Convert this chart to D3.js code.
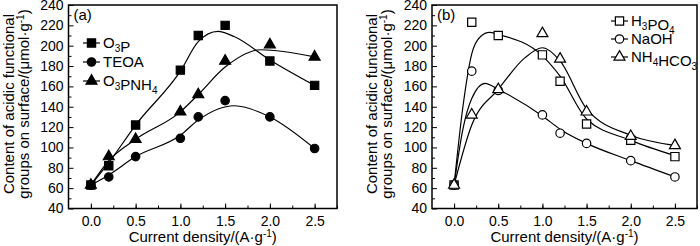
<!DOCTYPE html>
<html lang="en">
  <head>
    <meta charset="utf-8">
    <title>Acidic functional groups</title>
    <script src="https://d3js.org/d3.v7.js"></script>
    <style>
      body { margin: 0; background: #fff; }
      text { font-family: "Liberation Sans", Arial, sans-serif; fill: #000; }
    </style>
  </head>

  <body>

  <script>

// Data

  var density = [0, 0.2, 0.5, 1.0, 1.2, 1.5, 2.0, 2.5];

  // panel (a)
  var o3p    = [63, 82, 122, 176, 210, 220, 185, 161];
  var teoa   = [63, 71, 91, 109, 130, 146, 130, 99];
  var o3pnh4 = [63, 91, 108, 135, 152, 185, 201, 189];

  // panel (b)
  var h3po4   = [63, 223, 210, 191, 165, 123, 107, 91];
  var naoh    = [63, 175, 156, 132, 114, 104, 87, 71];
  var nh4hco3 = [63, 132, 157, 212, 187, 135, 111, 102];

  // fitted curves: [x, y]
  var o3pFit    = [[0,63],[0.2,85],[0.5,122],[1.0,175],[1.2,204],[1.42,214],[1.6,209],[2.0,186],[2.5,161]];
  var teoaFit   = [[0,63],[0.2,73],[0.5,91],[1.0,112],[1.2,127],[1.6,141],[2.0,130],[2.5,99]];
  var o3pnh4Fit = [[0,63],[0.2,87],[0.5,108],[1.0,135],[1.2,152],[1.5,179],[1.9,196],[2.5,189]];

  var h3po4Fit   = [[0,63],[0.1,140],[0.2,192],[0.3,209],[0.4,213],[0.5,211],[1.0,190],[1.2,170],[1.5,128],[2.0,107],[2.5,92]];
  var naohFit    = [[0,63],[0.1,118],[0.2,148],[0.35,163],[0.5,157],[1.0,131],[1.2,118],[1.5,104],[2.0,87],[2.5,71]];
  var nh4hco3Fit = [[0,63],[0.2,122],[0.5,157],[0.8,188],[1.0,198],[1.2,185],[1.5,138],[2.0,112],[2.5,102]];

  var xTickValues = [0, 0.5, 1.0, 1.5, 2.0, 2.5];
  var yTickValues = [40, 60, 80, 100, 120, 140, 160, 180, 200, 220, 240];

  var w = 700;
  var h = 246;

  var svg = d3.select("body")
    .append("svg")
      .attr("width", w)
      .attr("height", h);

  function symbolFor(shape) {
    if (shape == "square") return d3.symbolSquare;
    if (shape == "circle") return d3.symbolCircle;
    return d3.symbolTriangle;
  }
  var symSize = {square: 68, circle: 56, triangle: 52};

  function panel(opt) {

    var x = d3.scaleLinear()
        .domain([-0.25, 2.75])
        .range([opt.left, opt.right]);

    var y = d3.scaleLinear()
        .domain([40, 240])
        .range([208.5, 5]);

    var g = svg.append("g");

    // minor ticks
    g.append("g")
        .attr("transform", `translate (0, ${y(40)})`)
        .call(d3.axisBottom(x).tickValues(d3.range(0, 2.76, 0.25)).tickSize(-3).tickFormat(""))
        .call(a => a.select(".domain").remove());
    g.append("g")
        .attr("transform", `translate (${x(-0.25)}, 0)`)
        .call(d3.axisLeft(y).tickValues(d3.range(50, 240, 20)).tickSize(-3).tickFormat(""))
        .call(a => a.select(".domain").remove());

    // major ticks
    g.append("g")
        .attr("transform", `translate (0, ${y(40)})`)
        .call(d3.axisBottom(x).tickValues(xTickValues).tickSize(-5).tickPadding(8).tickFormat(d3.format(".1f")))
        .call(a => a.select(".domain").remove())
        .call(a => a.selectAll("text").style("font-size", "14px"));
    g.append("g")
        .attr("transform", `translate (${x(-0.25)}, 0)`)
        .call(d3.axisLeft(y).tickValues(yTickValues).tickSize(-5).tickPadding(5))
        .call(a => a.select(".domain").remove())
        .call(a => a.selectAll("text").style("font-size", "14px"));

    g.selectAll(".tick line").attr("stroke", "#000").attr("stroke-width", 1);

    // frame
    g.append("rect")
        .attr("x", x(-0.25))
        .attr("y", y(240))
        .attr("width", x(2.75) - x(-0.25))
        .attr("height", y(40) - y(240))
        .attr("fill", "none")
        .attr("stroke", "#000")
        .attr("stroke-width", 1.5);

    // axis titles
    var xt = g.append("text")
        .attr("x", (x(-0.25) + x(2.75)) / 2)
        .attr("y", 242)
        .attr("text-anchor", "middle")
        .style("font-size", "15px");
    xt.append("tspan").text("Current density/(A·g");
    xt.append("tspan").attr("dy", -5).style("font-size", "10px").text("-1");
    xt.append("tspan").attr("dy", 5).text(")");

    var yt = g.append("g")
        .attr("transform", `translate (${opt.left - 55}, 104) rotate(-90)`);
    yt.append("text")
        .attr("x", 0).attr("y", 0)
        .attr("text-anchor", "middle")
        .style("font-size", "15px")
        .text("Content of acidic functional");
    var yt2 = yt.append("text")
        .attr("x", 0).attr("y", 15)
        .attr("text-anchor", "middle")
        .style("font-size", "15px");
    yt2.append("tspan").text("groups on surface/(μmol·g");
    yt2.append("tspan").attr("dy", -5).style("font-size", "10px").text("-1");
    yt2.append("tspan").attr("dy", 5).text(")");

    g.append("text")
        .attr("x", x(-0.25) + 5)
        .attr("y", 20)
        .style("font-size", "15px")
        .text(opt.tag);

    // fitted curves
    var line = d3.line()
        .x(d => x(d[0]))
        .y(d => y(d[1]))
        .curve(d3.curveMonotoneX);

    opt.series.forEach(function (s) {
      g.append("path")
          .attr("d", line(s.fit))
          .attr("fill", "none")
          .attr("stroke", "#000")
          .attr("stroke-width", 1.2);
    });

    // markers
    opt.series.forEach(function (s) {
      g.selectAll(null)
          .data(s.values.map((v, i) => [density[i], v]))
        .enter().append("path")
          .attr("transform", d => `translate (${x(d[0])}, ${y(d[1])})`)
          .attr("d", d3.symbol(symbolFor(s.shape), symSize[s.shape]))
          .attr("fill", opt.filled ? "#000" : "#fff")
          .attr("stroke", "#000")
          .attr("stroke-width", 1.2);
    });

    // legend
    opt.series.forEach(function (s, i) {
      var ly = opt.legY + i * opt.legStep;
      var lg = g.append("g").attr("transform", `translate (${opt.legX}, ${ly})`);
      lg.append("line")
          .attr("x1", 0).attr("x2", 17)
          .attr("y1", 0).attr("y2", 0)
          .attr("stroke", "#000")
          .attr("stroke-width", 1.2);
      lg.append("path")
          .attr("transform", "translate (8.5, 0)")
          .attr("d", d3.symbol(symbolFor(s.shape), symSize[s.shape]))
          .attr("fill", opt.filled ? "#000" : "#fff")
          .attr("stroke", "#000")
          .attr("stroke-width", 1.2);
      var t = lg.append("text")
          .attr("x", 20)
          .attr("y", 5)
          .style("font-size", "15px");
      s.label.forEach(function (part) {
        if (part[1]) {
          t.append("tspan").attr("dy", 4).style("font-size", "10px").text(part[0]);
          t.append("tspan").attr("dy", -4).text("");
        } else {
          t.append("tspan").text(part[0]);
        }
      });
    });
  }

  panel({
    left: 68.5, right: 337, tag: "(a)", filled: true,
    legX: 83, legY: 43, legStep: 19,
    series: [
      {values: o3p, fit: o3pFit, shape: "square", label: [["O"], ["3", 1], ["P"]]},
      {values: teoa, fit: teoaFit, shape: "circle", label: [["TEOA"]]},
      {values: o3pnh4, fit: o3pnh4Fit, shape: "triangle", label: [["O"], ["3", 1], ["PNH"], ["4", 1]]}
    ]
  });

  panel({
    left: 432, right: 697, tag: "(b)", filled: false,
    legX: 611, legY: 21, legStep: 18,
    series: [
      {values: h3po4, fit: h3po4Fit, shape: "square", label: [["H"], ["3", 1], ["PO"], ["4", 1]]},
      {values: naoh, fit: naohFit, shape: "circle", label: [["NaOH"]]},
      {values: nh4hco3, fit: nh4hco3Fit, shape: "triangle", label: [["NH"], ["4", 1], ["HCO"], ["3", 1]]}
    ]
  });

  </script>

  </body>

</html>
